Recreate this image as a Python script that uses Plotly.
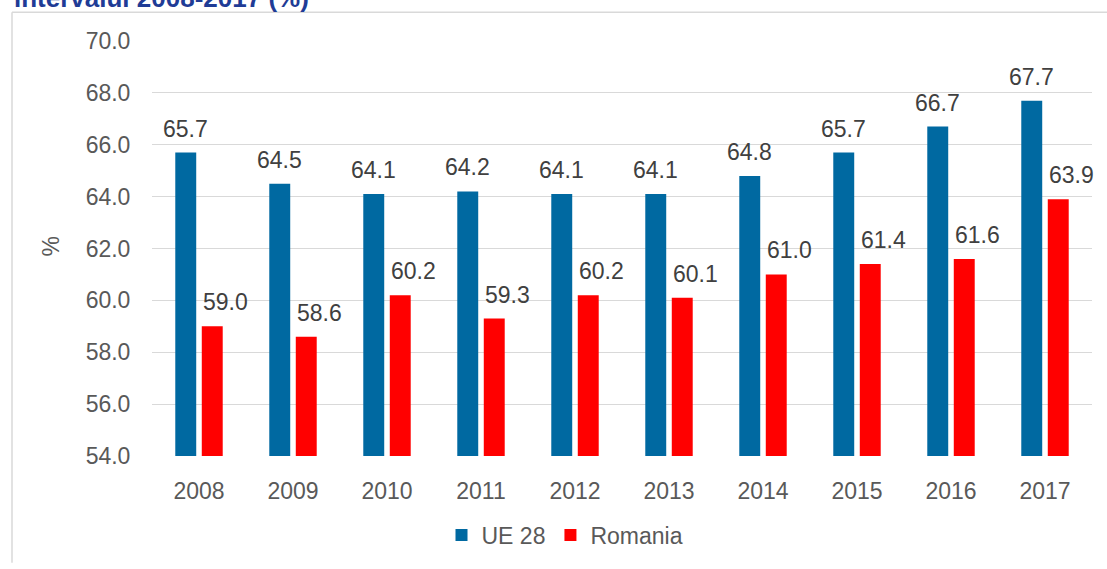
import plotly.graph_objects as go

years = ["2008", "2009", "2010", "2011", "2012", "2013", "2014", "2015", "2016", "2017"]
ue28 = [65.7, 64.5, 64.1, 64.2, 64.1, 64.1, 64.8, 65.7, 66.7, 67.7]
romania = [59.0, 58.6, 60.2, 59.3, 60.2, 60.1, 61.0, 61.4, 61.6, 63.9]
y_ticks = [54, 56, 58, 60, 62, 64, 66, 68, 70]

BLUE = "#0069a1"
RED = "#ff0000"
FONT = "Liberation Sans, Arial, sans-serif"

W, H = 1107, 569
L, R, T, B = 152, 15, 41, 108
PW, PH = W - L - R, H - T - B

def px_x(p):
    return (p - L) / PW

def px_y(p):
    return (H - B - p) / PH

fig = go.Figure()
fig.add_trace(go.Bar(name="UE 28", x=years, y=ue28, marker=dict(color=BLUE, line=dict(width=0))))
fig.add_trace(go.Bar(name="Romania", x=years, y=romania, marker=dict(color=RED, line=dict(width=0))))

# data labels (x given as category index)
slot = PW / len(years) * (1 - 0.436) / 2
for i, (a, b) in enumerate(zip(ue28, romania)):
    fig.add_annotation(x=i, y=a, text=f"{a:.1f}", showarrow=False, xshift=-slot / 2,
                       yshift=24, yanchor="middle", font=dict(size=23, color="#404040", family=FONT))
    fig.add_annotation(x=i, y=b, text=f"{b:.1f}", showarrow=False, xshift=slot / 2 + 13,
                       yshift=24, yanchor="middle", font=dict(size=23, color="#404040", family=FONT))

# axis title
fig.add_annotation(xref="paper", yref="paper", x=px_x(51), y=px_y(249), text="%", textangle=-90,
                   showarrow=False, xanchor="center", yanchor="middle",
                   font=dict(size=23, color="#595959", family=FONT))

# clipped title
fig.add_annotation(xref="paper", yref="paper", x=px_x(12), y=px_y(15), text="<b>intervalul 2008-2017 (%)</b>",
                   showarrow=False, xanchor="left", yanchor="bottom",
                   font=dict(size=26, color="#1f3c96", family=FONT))

# outer frame (left and top edges; the rest lies outside the picture)
fig.add_shape(type="line", xref="paper", yref="paper", x0=px_x(12), x1=px_x(12), y0=px_y(H), y1=px_y(12),
              line=dict(color="#d9d9d9", width=1.5), layer="below")
fig.add_shape(type="line", xref="paper", yref="paper", x0=px_x(12), x1=px_x(W), y0=px_y(12), y1=px_y(12),
              line=dict(color="#d9d9d9", width=1.5), layer="below")

fig.update_layout(
    width=W, height=H,
    margin=dict(l=L, r=R, t=T, b=B, pad=0),
    paper_bgcolor="white", plot_bgcolor="white",
    barmode="group", bargap=0.436, bargroupgap=0.21,
    showlegend=True,
    legend=dict(orientation="h", x=px_x(565), xanchor="center", y=px_y(541), yanchor="middle",
                font=dict(size=23, color="#595959", family=FONT), itemwidth=30, traceorder="normal"),
    font=dict(family=FONT),
    xaxis=dict(type="category", range=[-0.5, len(years) - 0.5], showgrid=False, showline=False,
               ticks="outside", ticklen=14, tickcolor="rgba(0,0,0,0)",
               tickfont=dict(size=23, color="#595959", family=FONT), zeroline=False),
    yaxis=dict(range=[54, 70], tickvals=y_ticks, tickformat=".1f", showgrid=True, gridcolor="#d9d9d9",
               gridwidth=1.3, zeroline=False, showline=False, ticks="outside", ticklen=16,
               tickcolor="rgba(0,0,0,0)", tickfont=dict(size=23, color="#595959", family=FONT)),
)

post = (
    "document.documentElement.style.margin='0';document.documentElement.style.overflow='hidden';"
    "document.body.style.margin='0';document.body.style.overflow='hidden';"
    "var d=document.getElementById('{plot_id}');d.style.position='fixed';d.style.left='0';d.style.top='0';"
)
fig.write_html("out.html", config={"displayModeBar": False}, post_script=post)
